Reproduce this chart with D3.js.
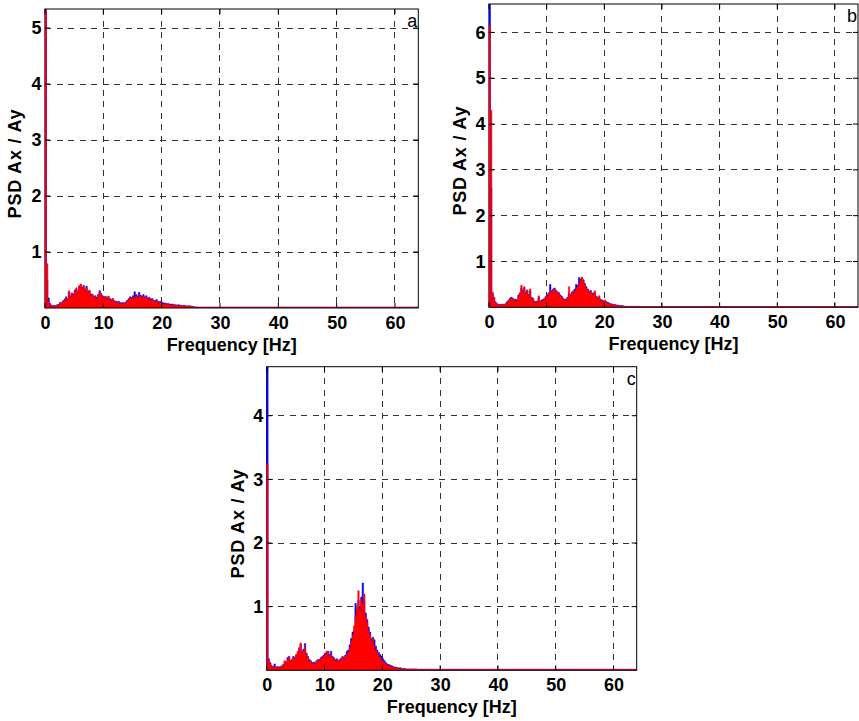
<!DOCTYPE html>
<html><head><meta charset="utf-8">
<script src="https://cdn.jsdelivr.net/npm/d3@7"></script>
<style>
html,body{margin:0;padding:0;background:#fff;}
svg{display:block;font-family:"Liberation Sans",Arial,Helvetica,sans-serif;}
</style></head>
<body>
<svg id="chart" width="859" height="721"></svg>
<script>
// ---- data (0.25 Hz bins from 0 to 25.75 Hz, then flat floor to 64 Hz) ----
const binStep = 0.25;
const tailFreqs = [26, 64];
const tailValue = 0.015;
const xTicks = [0, 10, 20, 30, 40, 50, 60];
const yTicksA = [1, 2, 3, 4, 5];
const yTicksB = [1, 2, 3, 4, 5, 6];
const yTicksC = [1, 2, 3, 4];
const xLabel = "Frequency [Hz]";
const yLabel = "PSD Ax / Ay";
const panelLetters = ["a", "b", "c"];

const blueA = [5.4,0.5,0.18,0.08,0.05,0.04,0.05,0.04,
0.06,0.07,0.1,0.1,0.13,0.16,0.2,0.17,
0.28,0.22,0.27,0.25,0.32,0.34,0.3,0.38,
0.4,0.37,0.4,0.33,0.39,0.3,0.3,0.25,
0.24,0.2,0.22,0.19,0.24,0.31,0.26,0.22,
0.2,0.21,0.18,0.2,0.17,0.15,0.17,0.13,
0.12,0.11,0.12,0.1,0.09,0.1,0.09,0.11,
0.14,0.17,0.2,0.19,0.22,0.29,0.24,0.22,
0.28,0.23,0.21,0.24,0.2,0.22,0.18,0.19,
0.16,0.17,0.14,0.13,0.15,0.12,0.11,0.12,
0.1,0.09,0.09,0.08,0.08,0.07,0.07,0.07,
0.06,0.06,0.05,0.06,0.05,0.05,0.04,0.05,
0.04,0.04,0.04,0.04,0.03,0.03,0.02,0.02];
const redA = [5.4,0.79,0.12,0.05,0.04,0.03,0.04,0.03,
0.05,0.06,0.09,0.08,0.12,0.14,0.18,0.15,
0.31,0.2,0.26,0.22,0.3,0.36,0.28,0.4,
0.43,0.35,0.38,0.3,0.36,0.28,0.32,0.22,
0.25,0.18,0.2,0.16,0.22,0.28,0.24,0.2,
0.18,0.2,0.16,0.21,0.15,0.14,0.16,0.12,
0.1,0.09,0.11,0.08,0.07,0.09,0.07,0.1,
0.12,0.15,0.18,0.16,0.2,0.17,0.22,0.19,
0.23,0.2,0.18,0.21,0.17,0.2,0.15,0.17,
0.13,0.15,0.12,0.11,0.13,0.1,0.09,0.1,
0.08,0.07,0.08,0.06,0.07,0.06,0.05,0.06,
0.05,0.05,0.04,0.05,0.04,0.04,0.03,0.04,
0.03,0.03,0.03,0.03,0.02,0.02,0.02,0.02];

const blueB = [6.7,2.6,0.3,0.22,0.12,0.08,0.07,0.06,
0.06,0.07,0.06,0.08,0.12,0.15,0.2,0.22,
0.2,0.17,0.18,0.16,0.27,0.32,0.42,0.37,
0.43,0.33,0.38,0.28,0.35,0.22,0.2,0.14,
0.12,0.14,0.22,0.14,0.16,0.17,0.2,0.24,
0.28,0.32,0.5,0.36,0.4,0.42,0.37,0.34,
0.32,0.27,0.24,0.2,0.17,0.18,0.22,0.3,
0.28,0.33,0.36,0.4,0.5,0.48,0.65,0.62,
0.64,0.6,0.52,0.45,0.4,0.35,0.37,0.3,
0.32,0.3,0.24,0.22,0.22,0.17,0.16,0.14,
0.14,0.12,0.11,0.09,0.08,0.07,0.06,0.06,
0.05,0.05,0.04,0.04,0.04,0.03,0.02,0.02,
0.02,0.02,0.02,0.02,0.02,0.02,0.02,0.02];
const redB = [6.15,4.3,0.33,0.2,0.1,0.07,0.06,0.05,
0.05,0.06,0.05,0.07,0.1,0.13,0.17,0.2,
0.18,0.15,0.16,0.14,0.25,0.3,0.48,0.35,
0.45,0.3,0.36,0.25,0.4,0.2,0.18,0.12,
0.1,0.12,0.25,0.12,0.14,0.15,0.18,0.22,
0.25,0.3,0.35,0.33,0.38,0.4,0.35,0.32,
0.3,0.25,0.22,0.18,0.15,0.16,0.2,0.45,
0.25,0.3,0.33,0.35,0.42,0.45,0.5,0.6,
0.66,0.58,0.5,0.42,0.38,0.32,0.35,0.28,
0.3,0.36,0.22,0.2,0.25,0.15,0.14,0.12,
0.16,0.1,0.09,0.08,0.07,0.06,0.05,0.05,
0.04,0.04,0.03,0.03,0.03,0.02,0.02,0.02,
0.02,0.02,0.02,0.02,0.02,0.02,0.02,0.02];

const blueC = [4.9,0.18,0.12,0.07,0.06,0.1,0.05,0.06,
0.05,0.06,0.07,0.09,0.14,0.13,0.2,0.22,
0.15,0.17,0.22,0.2,0.24,0.28,0.34,0.4,
0.3,0.33,0.42,0.27,0.22,0.17,0.15,0.12,
0.13,0.12,0.15,0.17,0.17,0.2,0.22,0.24,
0.27,0.28,0.3,0.25,0.3,0.22,0.2,0.17,
0.18,0.15,0.17,0.19,0.22,0.2,0.24,0.3,
0.32,0.4,0.5,0.6,0.62,1.05,0.95,1.1,
1.0,1.15,1.37,1.1,0.9,0.8,0.68,0.6,
0.5,0.52,0.48,0.38,0.32,0.28,0.25,0.22,
0.18,0.15,0.12,0.1,0.09,0.08,0.07,0.06,
0.05,0.05,0.04,0.04,0.04,0.03,0.03,0.03,
0.02,0.02,0.02,0.02,0.02,0.02,0.02,0.02];
const redC = [3.25,0.15,0.1,0.06,0.05,0.06,0.04,0.05,
0.04,0.05,0.06,0.08,0.15,0.12,0.18,0.2,
0.14,0.16,0.2,0.18,0.25,0.3,0.36,0.43,
0.28,0.3,0.36,0.25,0.2,0.15,0.13,0.1,
0.12,0.1,0.14,0.16,0.15,0.18,0.2,0.22,
0.25,0.3,0.27,0.22,0.24,0.2,0.18,0.15,
0.16,0.13,0.15,0.17,0.2,0.18,0.22,0.25,
0.28,0.35,0.45,0.55,0.7,0.85,1.0,1.25,
0.95,1.1,1.05,1.2,0.85,0.75,0.62,0.55,
0.45,0.5,0.38,0.32,0.28,0.24,0.2,0.17,
0.14,0.12,0.1,0.08,0.07,0.06,0.05,0.05,
0.04,0.04,0.03,0.03,0.03,0.03,0.02,0.02,
0.02,0.02,0.02,0.02,0.02,0.02,0.02,0.02];

// ---- layout ----
const panels = [
  {left:45, right:418.3, top:9, bottom:308, ymax:5.34, yTicks:yTicksA, blue:blueA, red:redA, letter:panelLetters[0], ylx:15},
  {left:489, right:858, top:4, bottom:307.3, ymax:6.62, yTicks:yTicksB, blue:blueB, red:redB, letter:panelLetters[1], ylx:460},
  {left:266.7, right:636.7, top:366.7, bottom:670.3, ymax:4.77, yTicks:yTicksC, blue:blueC, red:redC, letter:panelLetters[2], ylx:238}
];

const svg = d3.select("#chart");
const FONT = "Liberation Sans, Arial, sans-serif";

function toSeries(vals){
  const pts = vals.map((v,i)=>({f:i*binStep, v:v}));
  tailFreqs.forEach(f=>pts.push({f:f, v:tailValue}));
  return pts;
}

panels.forEach((p,idx)=>{
  const x = d3.scaleLinear().domain([0,64]).range([p.left,p.right]);
  const y = d3.scaleLinear().domain([0,p.ymax]).range([p.bottom,p.top]);
  const g = svg.append("g");
  const clipId = "clip"+idx;
  svg.append("defs").append("clipPath").attr("id",clipId)
    .append("rect").attr("x",p.left).attr("y",p.top)
    .attr("width",p.right-p.left).attr("height",p.bottom-p.top);

  // grid
  const grid = g.append("g").attr("stroke","#333").attr("stroke-width",1)
    .attr("stroke-dasharray","6,5.5").attr("shape-rendering","crispEdges");
  grid.selectAll(".vx").data(xTicks.filter(t=>t>0)).join("line")
    .attr("x1",d=>x(d)).attr("x2",d=>x(d)).attr("y1",p.top).attr("y2",p.bottom);
  grid.selectAll(".hy").data(p.yTicks).join("line")
    .attr("y1",d=>y(d)).attr("y2",d=>y(d)).attr("x1",p.left).attr("x2",p.right);

  // spectra (bar-like steps)
  const area = d3.area().curve(d3.curveStepAfter).x(d=>x(d.f)).y0(y(0)).y1(d=>y(d.v));
  const sg = g.append("g").attr("clip-path",`url(#${clipId})`);
  sg.append("path").datum(toSeries(p.blue)).attr("d",area)
    .attr("fill","#0000ff").attr("stroke","#0000ff").attr("stroke-width",0.5);
  sg.append("path").datum(toSeries(p.red)).attr("d",area)
    .attr("fill","#ff0000").attr("stroke","#ff0000").attr("stroke-width",0.5);

  // frame
  g.append("rect").attr("x",p.left).attr("y",p.top)
    .attr("width",p.right-p.left).attr("height",p.bottom-p.top)
    .attr("fill","none").attr("stroke","#000").attr("stroke-width",1);
  // the zero-frequency spike sits on top of the left axis line
  g.append("line").attr("x1",p.left+0.5).attr("x2",p.left+0.5)
    .attr("y1",y(0)).attr("y2",y(Math.min(p.blue[0],p.ymax)))
    .attr("stroke","#0000ff").attr("stroke-width",1.5);
  g.append("line").attr("x1",p.left+0.5).attr("x2",p.left+0.5)
    .attr("y1",y(0)).attr("y2",y(Math.min(p.red[0],p.ymax)))
    .attr("stroke","#ff0000").attr("stroke-width",1.5);
  // inward ticks
  const tk = g.append("g").attr("stroke","#000").attr("stroke-width",1);
  xTicks.forEach(t=>{
    tk.append("line").attr("x1",x(t)).attr("x2",x(t)).attr("y1",p.bottom).attr("y2",p.bottom-5);
    tk.append("line").attr("x1",x(t)).attr("x2",x(t)).attr("y1",p.top).attr("y2",p.top+5);
  });
  p.yTicks.forEach(t=>{
    tk.append("line").attr("y1",y(t)).attr("y2",y(t)).attr("x1",p.left).attr("x2",p.left+5);
    tk.append("line").attr("y1",y(t)).attr("y2",y(t)).attr("x1",p.right).attr("x2",p.right-5);
  });

  // axes labels via d3 axes
  const xa = g.append("g").attr("transform",`translate(0,${p.bottom})`)
    .call(d3.axisBottom(x).tickValues(xTicks).tickSize(0).tickPadding(8).tickFormat(d3.format("d")));
  xa.select(".domain").remove();
  xa.selectAll("text").attr("font-size",18).attr("font-weight","bold").attr("fill","#000")
    .attr("font-family",FONT);
  const ya = g.append("g").attr("transform",`translate(${p.left},0)`)
    .call(d3.axisLeft(y).tickValues(p.yTicks).tickSize(0).tickPadding(3.5).tickFormat(d3.format("d")));
  ya.select(".domain").remove();
  ya.selectAll("text").attr("font-size",18).attr("font-weight","bold").attr("fill","#000")
    .attr("font-family",FONT);

  // titles
  g.append("text").attr("x",(p.left+p.right)/2).attr("y",p.bottom+43)
    .attr("text-anchor","middle").attr("font-size",18).attr("font-weight","bold")
    .attr("font-family",FONT).text(xLabel);
  g.append("text").attr("transform",`translate(${p.ylx},${(p.top+p.bottom)/2+5}) rotate(-90)`)
    .attr("text-anchor","middle").attr("dominant-baseline","central")
    .attr("font-size",18).attr("font-weight","bold").attr("letter-spacing",0.8)
    .attr("font-family",FONT).text(yLabel);
  g.append("text").attr("x",p.right-1).attr("y",p.top+18)
    .attr("text-anchor","end").attr("font-size",18).attr("font-family",FONT).text(p.letter);
});
</script>
</body></html>
